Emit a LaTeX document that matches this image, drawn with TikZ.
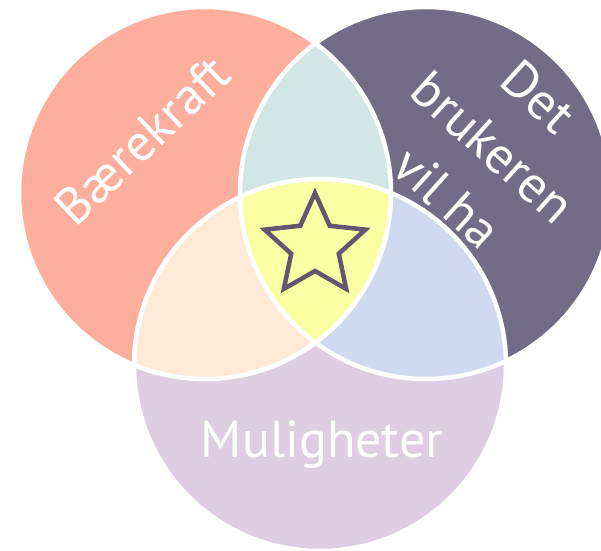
\documentclass[tikz,border=0pt]{standalone}
\usepackage{fontspec}
\setmainfont{PT Sans}

\definecolor{salmon}{HTML}{FEAE9D}
\definecolor{dusk}{HTML}{726C86}
\definecolor{lilac}{HTML}{DFCDE3}
\definecolor{mint}{HTML}{D3E6E6}
\definecolor{peach}{HTML}{FFEAD8}
\definecolor{sky}{HTML}{CFDAF0}
\definecolor{lemon}{HTML}{F9FFA2}
\definecolor{starline}{HTML}{635670}

\begin{document}
\begin{tikzpicture}[x=1pt, y=1pt,
    rim/.style={draw=white, line width=4.5pt},
    word/.style={text=white, font=\fontsize{52}{68}\selectfont, inner sep=0pt}]
  \useasboundingbox (0,0) rectangle (601,550);
  \clip (0,0) rectangle (601,550);

  \coordinate (left) at (205,357);
  \coordinate (right) at (426,357);
  \coordinate (bottom) at (320,185);

  % the three circles
  \fill[salmon] (left) circle (186);
  \fill[dusk] (right) circle (186);
  \fill[lilac] (bottom) circle (186);

  % overlaps
  \begin{scope}
    \clip (left) circle (186);
    \fill[mint] (right) circle (186);
    \fill[peach] (bottom) circle (186);
  \end{scope}
  \begin{scope}
    \clip (right) circle (186);
    \fill[sky] (bottom) circle (186);
    \clip (left) circle (186);
    \fill[lemon] (bottom) circle (186);
  \end{scope}

  \foreach \c in {left, right, bottom} {
    \path[rim] (\c) circle (186);
  }

  % star in the middle
  \draw[starline, line width=4.5pt, line join=miter, shift={(315,304)}]
    (90:53) \foreach \i in {1,...,9} { -- ({90+36*\i}:{mod(\i,2)==0 ? 53 : 25}) } -- cycle;

  \node[word, rotate=43.5] (baerekraft) at (142,410) {Bærekraft};
  \node[word, rotate=-42, align=center] (brukeren) at (493,403) {Det\\brukeren\\vil ha};
  \node[word, anchor=base] (muligheter) at (322,93) {Muligheter};
\end{tikzpicture}
\end{document}
